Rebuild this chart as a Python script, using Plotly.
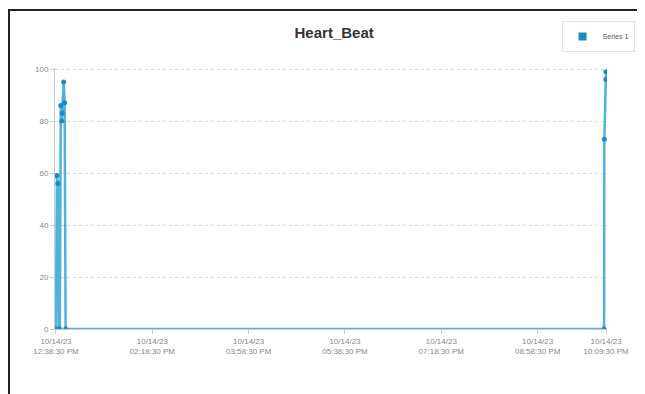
import plotly.graph_objects as go

times = [
    "2023-10-14 12:38:30", "2023-10-14 12:39:30", "2023-10-14 12:40:30",
    "2023-10-14 12:41:30", "2023-10-14 12:42:30", "2023-10-14 12:43:30",
    "2023-10-14 12:44:30", "2023-10-14 12:45:00", "2023-10-14 12:46:30",
    "2023-10-14 12:47:30", "2023-10-14 12:48:30",
    "2023-10-14 22:07:30", "2023-10-14 22:07:45", "2023-10-14 22:09:15",
    "2023-10-14 22:09:30",
]
heart_beat = [0, 59, 56, 0, 0, 86, 80, 83, 95, 87, 0, 0, 73, 96, 99]

tick_vals = [
    "2023-10-14 12:38:30", "2023-10-14 14:18:30", "2023-10-14 15:58:30",
    "2023-10-14 17:38:30", "2023-10-14 19:18:30", "2023-10-14 20:58:30",
    "2023-10-14 22:09:30",
]
tick_text = [
    "10/14/23<br>12:38:30 PM", "10/14/23<br>02:18:30 PM", "10/14/23<br>03:58:30 PM",
    "10/14/23<br>05:38:30 PM", "10/14/23<br>07:18:30 PM", "10/14/23<br>08:58:30 PM",
    "10/14/23<br>10:09:30 PM",
]
y_ticks = [0, 20, 40, 60, 80, 100]

fig = go.Figure()
fig.add_trace(go.Scatter(
    x=times, y=heart_beat, mode="lines+markers",
    line=dict(color="#4cb3da", width=2.5),
    marker=dict(color="#1b8cc0", size=5),
    showlegend=False,
))
fig.add_trace(go.Scatter(
    x=[None], y=[None], mode="markers", name="Series 1",
    marker=dict(color="#1b8cc0", size=8, symbol="square"),
))

fig.update_layout(
    width=637, height=386,
    margin=dict(l=47, r=38, t=60, b=65, autoexpand=False),
    paper_bgcolor="white", plot_bgcolor="white",
    title=dict(text="<b>Heart_Beat</b>", x=0.512, xanchor="center", y=0.937, yanchor="middle",
               font=dict(family="Liberation Sans, Arial", size=15, color="#333")),
    legend=dict(x=1.05, y=1.18, xanchor="right", yanchor="top",
                bordercolor="#e2e2e2", borderwidth=1, bgcolor="white",
                font=dict(family="Liberation Sans, Arial", size=7, color="#555")),
    xaxis=dict(
        range=["2023-10-14 12:37:30", "2023-10-14 22:10:30"],
        tickvals=tick_vals, ticktext=tick_text, automargin=False,
        showgrid=False, zeroline=False,
        showline=True, linecolor="#cccccc",
        ticks="outside", ticklen=4, tickcolor="#cccccc",
        tickfont=dict(family="Liberation Sans, Arial", size=8, color="#888"),
    ),
    yaxis=dict(
        range=[0, 100.4], tickvals=y_ticks, automargin=False,
        showgrid=True, gridcolor="#d8d8d8", griddash="3px,3px",
        zeroline=False, showline=True, linecolor="#cccccc",
        ticks="outside", ticklen=4, tickcolor="#cccccc",
        tickfont=dict(family="Liberation Sans, Arial", size=8, color="#888"),
    ),
    shapes=[dict(type="rect", xref="paper", yref="paper",
                 x0=-0.0833, y0=-0.4, x1=1.2, y1=1.222,
                 line=dict(color="#222", width=2), fillcolor="rgba(0,0,0,0)", layer="above")],
)

fig.write_html("out.html")
